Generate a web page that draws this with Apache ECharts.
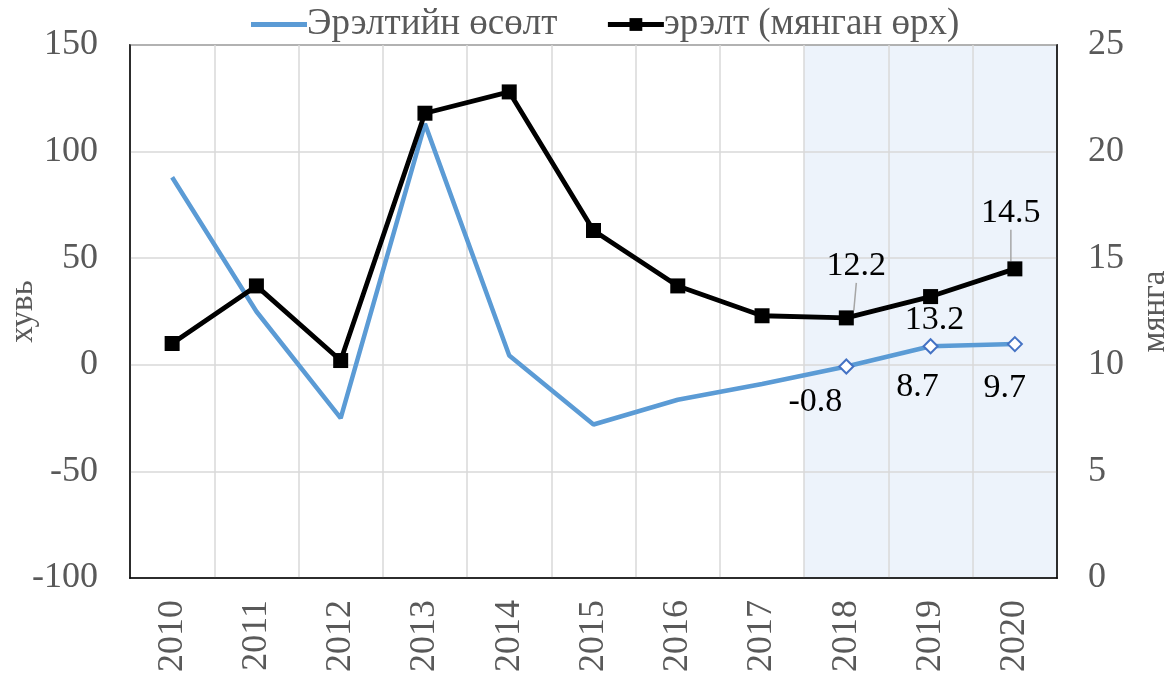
<!DOCTYPE html>
<html>
<head>
<meta charset="utf-8">
<script src="https://cdn.jsdelivr.net/npm/echarts@6/dist/echarts.min.js"></script>
<style>
    html, body { margin: 0; padding: 0; background: #fff; }
    #chart01 { width: 1173px; height: 676px; }
</style>
</head>
<body>
<div id="chart01"></div>
<script>
var years = ['2010', '2011', '2012', '2013', '2014', '2015', '2016', '2017', '2018', '2019', '2020'];
var growth = [88, 25, -25, 113, 4.4, -28, -16.4, -9, -0.8, 8.7, 9.7];       // хувь
var demand = [11.0, 13.7, 10.2, 21.8, 22.8, 16.3, 13.7, 12.3, 12.2, 13.2, 14.5]; // мянган өрх
var forecastYears = ['2018', '2019', '2020'];
var leftTicks = { min: -100, max: 150, interval: 50 };
var rightTicks = { min: 0, max: 25, interval: 5 };

var FONT = "'Liberation Serif', 'Times New Roman', serif";

function chart01(id) {
    var myChart = echarts.init(document.getElementById(id));

    // label offsets (px) for the forecast years
    var growthShift = { 8: [-31, 36], 9: [-13, 41], 10: [-10, 44] };
    var demandShift = { 8: [10, -52], 9: [4, 24], 10: [-4, -56] };

    var growthData = growth.map(function (v, i) {
        if (forecastYears.indexOf(years[i]) < 0) {
            return { value: v };
        }
        return {
            value: v,
            symbol: 'diamond',
            symbolSize: 14,
            itemStyle: { color: '#ffffff', borderColor: '#4472c4', borderWidth: 2 },
            label: { show: true }
        };
    });

    var demandData = demand.map(function (v, i) {
        var item = { value: v };
        if (forecastYears.indexOf(years[i]) >= 0) {
            item.label = { show: true };
            if (i !== 9) {
                item.labelLine = { show: true };
            }
        }
        return item;
    });

    var shadeData = years.map(function (y) {
        return forecastYears.indexOf(y) >= 0 ? rightTicks.max : null;
    });

    var option = {
        animation: false,
        textStyle: { fontFamily: FONT },
        grid: {
            left: 130,
            right: 116,
            top: 45,
            bottom: 98,
            outerBoundsMode: 'none',
            show: true,
            borderColor: '#000000',
            borderWidth: 1.5
        },
        legend: {
            top: 1,
            left: 246,
            itemWidth: 56,
            itemHeight: 16,
            itemGap: 48,
            lineStyle: { width: 5 },
            textStyle: {
                fontSize: 37,
                color: '#595959',
                fontFamily: FONT,
                padding: [0, 0, 0, -5]
            },
            data: [
                { name: 'Эрэлтийн өсөлт', icon: 'path://M0,0H56V5H0Z' },
                { name: 'эрэлт (мянган өрх)' }
            ]
        },
        xAxis: {
            type: 'category',
            boundaryGap: true,
            data: years,
            axisLine: { show: true, onZero: false, lineStyle: { color: '#000000', width: 1.5 } },
            axisTick: { show: false },
            splitLine: { show: true, lineStyle: { color: '#d9d9d9', width: 1.5 } },
            axisLabel: {
                rotate: 90,
                fontSize: 36,
                color: '#595959',
                margin: 22,
                fontFamily: FONT
            }
        },
        yAxis: [
            {
                type: 'value',
                min: leftTicks.min,
                max: leftTicks.max,
                interval: leftTicks.interval,
                name: 'хувь',
                nameLocation: 'middle',
                nameGap: 90,
                nameRotate: 90,
                nameMoveOverlap: false,
                nameTextStyle: { fontSize: 33, color: '#595959', fontFamily: FONT },
                axisLine: { show: true, lineStyle: { color: '#000000', width: 1.5 } },
                axisTick: { show: false },
                splitLine: { show: true, lineStyle: { color: '#d9d9d9', width: 1.5 } },
                axisLabel: { fontSize: 36, color: '#595959', margin: 32, fontFamily: FONT }
            },
            {
                type: 'value',
                min: rightTicks.min,
                max: rightTicks.max,
                interval: rightTicks.interval,
                name: 'мянга',
                nameLocation: 'middle',
                nameGap: 82,
                nameRotate: 90,
                nameMoveOverlap: false,
                nameTextStyle: { fontSize: 33, color: '#595959', fontFamily: FONT },
                axisLine: { show: true, lineStyle: { color: '#000000', width: 1.5 } },
                axisTick: { show: false },
                splitLine: { show: false },
                axisLabel: { fontSize: 36, color: '#595959', margin: 31, fontFamily: FONT }
            }
        ],
        series: [
            {
                name: 'shade',
                type: 'bar',
                yAxisIndex: 1,
                barWidth: '100%',
                silent: true,
                z: -1,
                itemStyle: { color: '#edf3fb' },
                data: shadeData
            },
            {
                name: 'Эрэлтийн өсөлт',
                type: 'line',
                yAxisIndex: 0,
                symbol: 'none',
                showSymbol: true,
                lineStyle: { color: '#5b9bd5', width: 4.5 },
                itemStyle: { color: '#5b9bd5' },
                label: {
                    show: false,
                    position: 'inside',
                    fontSize: 34,
                    color: '#000000',
                    fontFamily: FONT
                },
                labelLayout: function (p) {
                    var s = growthShift[p.dataIndex];
                    return s ? { dx: s[0], dy: s[1] } : {};
                },
                z: 3,
                data: growthData
            },
            {
                name: 'эрэлт (мянган өрх)',
                type: 'line',
                yAxisIndex: 1,
                symbol: 'rect',
                symbolSize: 15,
                lineStyle: { color: '#000000', width: 4.8 },
                itemStyle: { color: '#000000' },
                label: {
                    show: false,
                    position: 'inside',
                    fontSize: 34,
                    color: '#000000',
                    fontFamily: FONT
                },
                labelLine: {
                    show: false,
                    lineStyle: { color: '#a6a6a6', width: 1.5 }
                },
                labelLayout: function (p) {
                    var s = demandShift[p.dataIndex];
                    return s ? { dx: s[0], dy: s[1] } : {};
                },
                z: 4,
                data: demandData
            }
        ]
    };

    myChart.setOption(option);
    return myChart;
}

var chartInit01 = chart01('chart01');
window.addEventListener('resize', function () {
    chartInit01.resize();
});
</script>
</body>
</html>
